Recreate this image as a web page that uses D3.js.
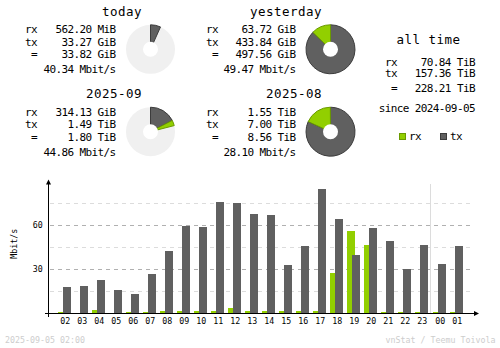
<!DOCTYPE html>
<html>
<head>
<meta charset="utf-8">
<script src="https://cdn.jsdelivr.net/npm/d3@7"></script>
<style>
  html, body { margin: 0; padding: 0; background: #fff; }
  svg { display: block; }
  text { font-family: "DejaVu Sans Mono", "Liberation Mono", monospace; fill: #000; }
  .big { font-size: 12.5px; letter-spacing: 0.47px; }
  .small { font-size: 11px; letter-spacing: -0.62px; }
  .tiny { font-size: 8.3px; }
  .faint { fill: #cdcdcd; }
</style>
</head>
<body>
<svg id="chart" width="500" height="348"></svg>
<script>
// ---- summary periods ----
const periodTitles = ["today", "yesterday", "2025-09", "2025-08"];
const rxValues    = [562.20, 63.72, 314.13, 1.55];
const rxUnits     = ["MiB", "GiB", "GiB", "TiB"];
const txValues    = [33.27, 433.84, 1.49, 7.00];
const txUnits     = ["GiB", "GiB", "TiB", "TiB"];
const totalValues = [33.82, 497.56, 1.80, 8.56];
const totalUnits  = ["GiB", "GiB", "TiB", "TiB"];
const avgRates    = [40.34, 49.47, 44.86, 28.10];

// ---- all time ----
const allTimeTitle  = "all time";
const allTimeLabels = ["rx", "tx", "="];
const allTimeValues = [70.84, 157.36, 228.21];
const allTimeUnit   = "TiB";
const sinceDate     = "2024-09-05";

// ---- hourly traffic (Mbit/s) ----
const hourLabels = ["02","03","04","05","06","07","08","09","10","11","12","13",
                    "14","15","16","17","18","19","20","21","22","23","00","01"];
const rxRates = [0.8, 0.2, 2.3, 0.2, 0.8, 0.8, 1.6, 1.6, 1.6, 1.6, 3.6, 1.5,
                 1.5, 1.5, 1.5, 1.5, 27.5, 56.1, 46.6, 0.8, 0.8, 0.8, 0.65, 0.65];
const txRates = [17.9, 18.6, 22.7, 15.9, 13.2, 26.8, 42.5, 59.5, 58.9, 75.9, 75.2, 67.7,
                 67.0, 32.9, 45.9, 84.8, 64.3, 39.8, 58.2, 49.3, 30.2, 46.6, 33.6, 45.8];
const yTickValues = [30, 60];
const yGridValues = [15, 30, 45, 60, 75];
const yAxisTitle = "Mbit/s";

const legendLabels = ["rx", "tx"];
const stampText  = "2025-09-05 02:00";
const creditText = "vnStat / Teemu Toivola";

// ---- colours ----
const colRx = "#92cf00", colRxEdge = "#6b9a00";
const colTx = "#606060", colTxEdge = "#3c3c3c";
const colPieBg = "#f0f0f0";

const unitScale = { MiB: 1, GiB: 1024, TiB: 1024 * 1024 };
const fmt = d3.format(".2f");

const svg = d3.select("#chart");

// ---------------- summary blocks ----------------
const colLeft   = [25, 206];
const colRight  = [115.6, 295.6];
const colTitleR = [142, 322];
const colPieX   = [150.5, 330.5];
const rowShift  = 82.4;

const rxMiB = rxValues.map((v, i) => v * unitScale[rxUnits[i]]);
const txMiB = txValues.map((v, i) => v * unitScale[txUnits[i]]);
const totMiB = totalValues.map((v, i) => v * unitScale[totalUnits[i]]);

const pieArc = d3.arc().innerRadius(0).outerRadius(24.5);

periodTitles.forEach((title, i) => {
  const col = i % 2, row = Math.floor(i / 2);
  const dy = row * rowShift;
  const g = svg.append("g");

  g.append("text").attr("class", "big").attr("text-anchor", "end")
    .attr("x", colTitleR[col]).attr("y", 15.8 + dy).text(title);

  const rows = [
    ["rx", `${fmt(rxValues[i])} ${rxUnits[i]}`, 33.3],
    ["tx", `${fmt(txValues[i])} ${txUnits[i]}`, 45.7],
    [" =", `${fmt(totalValues[i])} ${totalUnits[i]}`, 58.3]
  ];
  rows.forEach(([lab, val, y]) => {
    g.append("text").attr("class", "small").attr("x", colLeft[col]).attr("y", y + dy)
      .attr("xml:space", "preserve").text(lab);
    g.append("text").attr("class", "small").attr("text-anchor", "end")
      .attr("x", colRight[col]).attr("y", y + dy).text(val);
  });
  g.append("text").attr("class", "small").attr("text-anchor", "end")
    .attr("x", colRight[col]).attr("y", 73.3 + dy).text(`${fmt(avgRates[i])} Mbit/s`);

  // donut: share of the larger period in the same row
  const rowMax = Math.max(totMiB[row * 2], totMiB[row * 2 + 1]);
  const angle = d3.scaleLinear().domain([0, rowMax]).range([0, 2 * Math.PI]);
  const txEnd = angle(txMiB[i]);
  const rxEnd = txEnd + angle(rxMiB[i]);
  const pie = g.append("g").attr("transform", `translate(${colPieX[col]},${49.3 + dy})`);
  pie.append("circle").attr("r", 24.5).attr("fill", colPieBg);
  pie.append("path").attr("d", pieArc({ startAngle: 0, endAngle: txEnd }))
    .attr("fill", colTx).attr("stroke", colTxEdge).attr("stroke-width", 1);
  if (rxEnd - txEnd > 0.02) {
    pie.append("path").attr("d", pieArc({ startAngle: txEnd, endAngle: rxEnd }))
      .attr("fill", colRx).attr("stroke", colRxEdge).attr("stroke-width", 1);
  }
  pie.append("circle").attr("r", 7.5).attr("fill", "#fff");
});

// ---------------- all time block ----------------
const at = svg.append("g");
at.append("text").attr("class", "big").attr("text-anchor", "middle")
  .attr("x", 428.5).attr("y", 44).attr("xml:space", "preserve").text(allTimeTitle);
const atRowsY = [65.7, 77.3, 91.7];
allTimeLabels.forEach((lab, i) => {
  at.append("text").attr("class", "small").attr("x", 385).attr("y", atRowsY[i])
    .attr("xml:space", "preserve").text(lab === "=" ? " =" : lab);
  at.append("text").attr("class", "small").attr("text-anchor", "end")
    .attr("x", 474.9).attr("y", atRowsY[i]).text(`${fmt(allTimeValues[i])} ${allTimeUnit}`);
});
at.append("text").attr("class", "small").attr("text-anchor", "end")
  .attr("x", 474.9).attr("y", 112.3).text(`since ${sinceDate}`);

// legend
const legendX = [399, 440];
const legendFill = [colRx, colTx], legendEdge = [colRxEdge, colTxEdge];
legendLabels.forEach((lab, i) => {
  at.append("rect").attr("x", legendX[i] + 0.5).attr("y", 133.5).attr("width", 6).attr("height", 6)
    .attr("fill", legendFill[i]).attr("stroke", legendEdge[i]).attr("stroke-width", 1)
    .attr("shape-rendering", "crispEdges");
  at.append("text").attr("class", "small").attr("x", legendX[i] + 10).attr("y", 140.3).text(lab);
});

// ---------------- hourly bar chart ----------------
const midnight = hourLabels.indexOf("00");
const xSlot = d3.scaleLinear().domain([0, hourLabels.length - 1]).range([58, 449]);
const slotX = i => xSlot(i) + (i >= midnight ? 1 : 0);
const y = d3.scaleLinear().domain([0, 90]).range([313, 181]);
const barW = 8, txShift = 5;

const chart = svg.append("g").attr("shape-rendering", "crispEdges");

// grid
chart.selectAll("line.grid").data(yGridValues).join("line")
  .attr("x1", 50).attr("x2", 473)
  .attr("y1", d => y(d) + 0.5).attr("y2", d => y(d) + 0.5)
  .attr("stroke", d => yTickValues.includes(d) ? "#b0b0b0" : "#dcdcdc")
  .attr("stroke-width", 1).attr("stroke-dasharray", "4,4");

// day separator
chart.append("line")
  .attr("x1", slotX(midnight) - 2.5).attr("x2", slotX(midnight) - 2.5)
  .attr("y1", 184).attr("y2", y(0))
  .attr("stroke", "#dcdcdc").attr("stroke-width", 1);

// bars
chart.selectAll("rect.rx").data(rxRates).join("rect")
  .attr("x", (d, i) => slotX(i)).attr("width", barW)
  .attr("y", d => y(d)).attr("height", d => y(0) - y(d))
  .attr("fill", colRx);
chart.selectAll("rect.tx").data(txRates).join("rect")
  .attr("x", (d, i) => slotX(i) + txShift).attr("width", barW)
  .attr("y", d => y(d)).attr("height", d => y(0) - y(d))
  .attr("fill", colTx);

// axes
chart.append("line").attr("x1", 48.5).attr("x2", 48.5).attr("y1", 182).attr("y2", 317)
  .attr("stroke", "#000").attr("stroke-width", 1);
chart.append("line").attr("x1", 44.5).attr("x2", 476).attr("y1", 313.5).attr("y2", 313.5)
  .attr("stroke", "#000").attr("stroke-width", 1);
svg.append("path").attr("d", "M48.5,179.5 L46,184.5 L51,184.5 Z").attr("fill", "#000");
svg.append("path").attr("d", "M479,313.5 L474,311 L474,316 Z").attr("fill", "#000");

// tick labels
svg.selectAll("text.ytick").data(yTickValues).join("text")
  .attr("class", "tiny").attr("text-anchor", "end")
  .attr("x", 42.8).attr("y", d => y(d) + 3.3).text(d => d);

svg.selectAll("text.hour").data(hourLabels).join("text")
  .attr("class", "tiny").attr("text-anchor", "middle")
  .attr("x", (d, i) => slotX(i) + 7.2).attr("y", 324.3).text(d => d);

svg.append("text").attr("class", "tiny").attr("text-anchor", "middle")
  .attr("transform", "translate(17.3,243.7) rotate(-90)").text(yAxisTitle);

// footer
svg.append("text").attr("class", "tiny faint").attr("x", 5).attr("y", 343).text(stampText);
svg.append("text").attr("class", "tiny faint").attr("text-anchor", "end")
  .attr("x", 495.5).attr("y", 343).text(creditText);
</script>
</body>
</html>
